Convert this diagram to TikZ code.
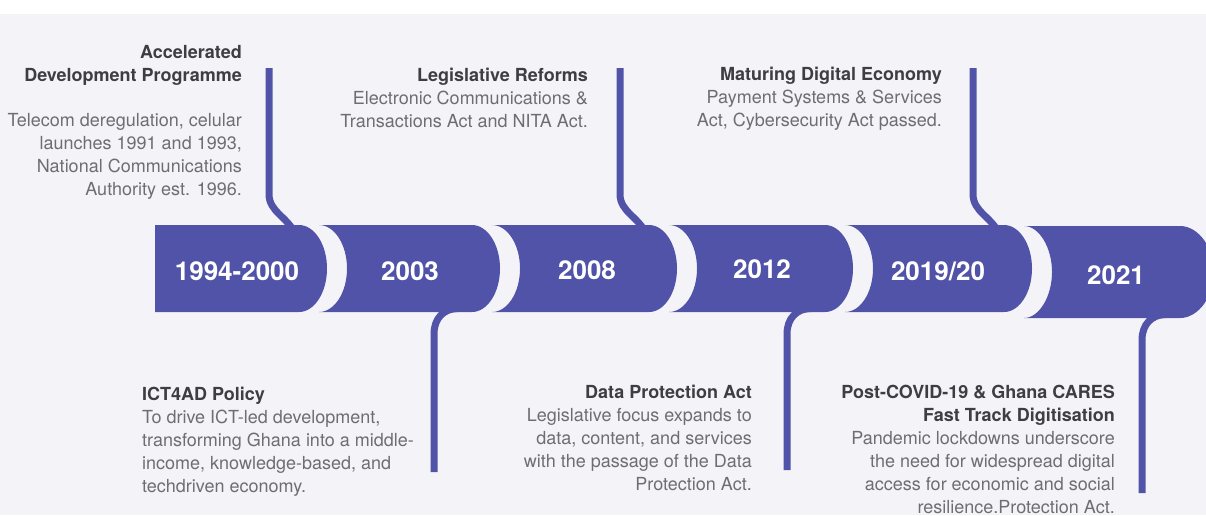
\documentclass[tikz,border=0pt]{standalone}
\usepackage{fontspec}
\setmainfont{TeX Gyre Heros}
\definecolor{band}{HTML}{5053A8}
\definecolor{headc}{HTML}{3E3E42}
\definecolor{bodyc}{HTML}{6E6E72}
\definecolor{bgc}{HTML}{F4F4F8}
\tikzset{
  segfill/.style={fill=band, draw=none},
  conn/.style={draw=band, line width=7pt},
  yearlab/.style={text=white, font=\fontsize{26}{30}\selectfont\bfseries, inner sep=0, anchor=base},
  headR/.style={align=right, anchor=north east, inner sep=0, text=headc, font=\fontsize{18}{23}\selectfont\bfseries},
  bodyR/.style={align=right, anchor=north east, inner sep=0, text=bodyc, font=\fontsize{18}{23}\selectfont},
  headL/.style={align=left, anchor=north west, inner sep=0, text=headc, font=\fontsize{18}{23}\selectfont\bfseries},
  bodyL/.style={align=left, anchor=north west, inner sep=0, text=bodyc, font=\fontsize{18}{23}\selectfont},
}
\begin{document}
\begin{tikzpicture}[x=1pt,y=-1pt]
\useasboundingbox (0,0) rectangle (1206,515);
\fill[bgc] (0,0) rectangle (1206,515);
\fill[white] (0,0) rectangle (1206,14);

% first segment (straight left edge)
\fill[segfill] (155,225) -- (299,225) .. controls (314.4,225) and (327,244.5) .. (327,268.5)
   .. controls (327,292.5) and (314.4,312) .. (299,312) -- (155,312) -- cycle;

% other segments (concave left edge, convex right edge)
\foreach \xp/\xr/\yt/\yb/\ra in {327/500/225/312/28, 500/677/225/312/28, 677/853/225/312/28, 853/1032/225/312/28, 1032/1214/226/318/34}{
  \pgfmathsetmacro\ym{(\yt+\yb)/2}
  \pgfmathsetmacro\ctl{0.55*\ra}
  \fill[segfill] (\xp-8,\yt) -- (\xr-\ra,\yt)
     .. controls (\xr-\ra+\ctl,\yt) and (\xr,\ym-24) .. (\xr,\ym)
     .. controls (\xr,\ym+24) and (\xr-\ra+\ctl,\yb) .. (\xr-\ra,\yb)
     -- (\xp-8,\yb)
     .. controls (\xp-8+15.4,\yb) and (\xp+20,\ym+24) .. (\xp+20,\ym)
     .. controls (\xp+20,\ym-24) and (\xp-8+15.4,\yt) .. (\xp-8,\yt) -- cycle;
}

% connector end points
\coordinate (t1) at (269,68);   \coordinate (t1e) at (296,235);
\coordinate (t3) at (620,68);   \coordinate (t3e) at (647,235);
\coordinate (t5) at (973,68);   \coordinate (t5e) at (1000,235);
\coordinate (b2) at (434,472);  \coordinate (b2e) at (458,308.5);
\coordinate (b4) at (787,470);  \coordinate (b4e) at (811,308.5);
\coordinate (b6) at (1142,493); \coordinate (b6e) at (1166,314.5);

% top connectors
\foreach \c in {t1,t3,t5}{
  \draw[conn] (\c) -- ++(0,126) .. controls +(0,18) and +(-9,-19) .. (\c e);
}
% bottom connectors
\foreach \c in {b2,b4,b6}{
  \draw[conn] (\c e) .. controls +(-14,0) and +(0,-16) .. ([xshift=-24pt,yshift=-25.5pt]\c e) -- (\c);
}

% year labels
\node[yearlab] (y1) at (237,280) {1994-2000};
\node[yearlab] (y2) at (410,280) {2003};
\node[yearlab] (y3) at (587,279) {2008};
\node[yearlab] (y4) at (762,278) {2012};
\node[yearlab] (y5) at (938,280) {2019/20};
\node[yearlab] (y6) at (1116,284) {2021};

% text blocks
\node[headR] (h1) at (242,45) {Accelerated\\Development Programme};
\node[bodyR] (p1) at (242,113) {Telecom deregulation, celular\\launches 1991 and 1993,\\National Communications\\Authority est. 1996.};

\node[headR] (h3) at (588,68) {Legislative Reforms};
\node[bodyR] (p3) at (588,91) {Electronic Communications \&\\Transactions Act and NITA Act.};

\node[headR] (h5) at (942,67) {Maturing Digital Economy};
\node[bodyR] (p5) at (942,90) {Payment Systems \& Services\\Act, Cybersecurity Act passed.};

\node[headL] (h2) at (142,387) {ICT4AD Policy};
\node[bodyL] (p2) at (142,410) {To drive ICT-led development,\\transforming Ghana into a middle-\\income, knowledge-based, and\\techdriven economy.};

\node[headR] (h4) at (752,385) {Data Protection Act};
\node[bodyR] (p4) at (752,408) {Legislative focus expands to\\data, content, and services\\with the passage of the Data\\Protection Act.};

\node[headR] (h6) at (1115,385) {Post-COVID-19 \& Ghana CARES\\Fast Track Digitisation};
\node[bodyR] (p6) at (1115,431) {Pandemic lockdowns underscore\\the need for widespread digital\\access for economic and social\\resilience.Protection Act.};
\end{tikzpicture}
\end{document}
